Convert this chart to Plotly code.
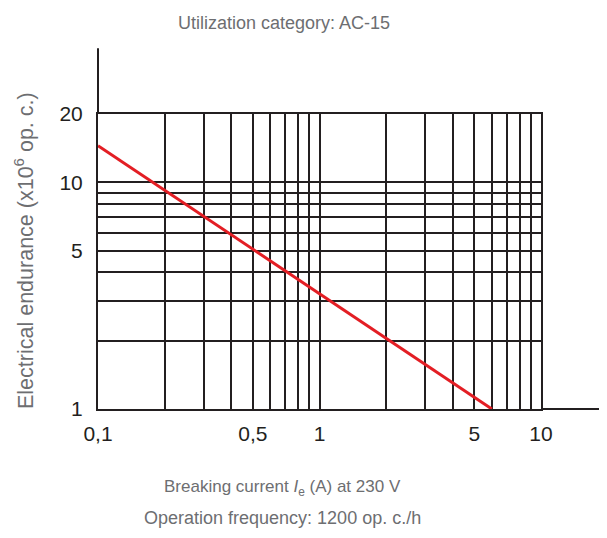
import math
import plotly.graph_objects as go

# ---- data ----
current_a = [0.1, 6]            # breaking current (A)
endurance_m = [14.5, 1]         # electrical endurance (x10^6 op. c.)

x_grid_vals = [0.1, 0.2, 0.3, 0.4, 0.5, 0.6, 0.7, 0.8, 0.9,
               1, 2, 3, 4, 5, 6, 7, 8, 9, 10]
x_tick_text = ["0,1", "", "", "", "0,5", "", "", "", "",
               "1", "", "", "", "5", "", "", "", "", "10"]
y_grid_vals = [1, 2, 3, 4, 5, 6, 7, 8, 9, 10, 20]
y_tick_text = ["1", "", "", "", "5", "", "", "", "", "10", "20"]

x_axis_extent = 20   # axis line extends to this value
y_axis_extent = 39

title_text = "Utilization category: AC-15"
y_title = "Electrical endurance (x10<sup>6</sup> op. c.)"
x_title_1 = "Breaking current <i>I</i><sub>e</sub> (A) at 230 V"
x_title_2 = "Operation frequency: 1200 op. c./h"

INK = "#231f20"
GREY = "#6d6e71"
RED = "#e31e24"
FONT = "Liberation Sans, Arial, sans-serif"

xmin, xmax = min(x_grid_vals), max(x_grid_vals)
ymin, ymax = min(y_grid_vals), max(y_grid_vals)

fig = go.Figure()
fig.add_trace(go.Scatter(x=current_a, y=endurance_m, mode="lines",
                         line=dict(color=RED, width=3), showlegend=False,
                         hoverinfo="skip"))

fig.update_xaxes(type="log", range=[math.log10(xmin), math.log10(xmax)],
                 tickvals=x_grid_vals, ticktext=x_tick_text,
                 showgrid=True, gridcolor=INK, gridwidth=2,
                 showline=True, linecolor=INK, linewidth=2, mirror=True,
                 ticks="", ticklabelstandoff=5, zeroline=False,
                 tickfont=dict(family=FONT, size=21, color=INK))
fig.update_yaxes(type="log", range=[math.log10(ymin), math.log10(ymax)],
                 tickvals=y_grid_vals, ticktext=y_tick_text,
                 showgrid=True, gridcolor=INK, gridwidth=2,
                 showline=True, linecolor=INK, linewidth=2, mirror=True,
                 ticks="", ticklabelstandoff=9, zeroline=False,
                 tickfont=dict(family=FONT, size=21, color=INK))

# axis extensions beyond the grid box
x_ext = (math.log10(x_axis_extent) - math.log10(xmin)) / (math.log10(xmax) - math.log10(xmin))
y_ext = (math.log10(y_axis_extent) - math.log10(ymin)) / (math.log10(ymax) - math.log10(ymin))
fig.add_shape(type="line", xref="paper", yref="paper", x0=1, x1=x_ext, y0=0, y1=0,
              line=dict(color=INK, width=2))
fig.add_shape(type="line", xref="paper", yref="paper", x0=0, x1=0, y0=1, y1=y_ext,
              line=dict(color=INK, width=2))

W, H = 607, 538
OFF = 8  # page offset of the plot div
ml, mt = 90, 106
pw, ph = 443, 295
mr, mb = W - ml - pw, H - mt - ph

def px_x(px):
    return (px - OFF - ml) / pw

def px_y(py):
    return (H - mb - (py - OFF)) / ph

def label(text, x, y, size, angle=0):
    fig.add_annotation(text=text, xref="paper", yref="paper",
                       x=px_x(x), y=px_y(y), xanchor="center", yanchor="middle",
                       textangle=angle, showarrow=False,
                       font=dict(family=FONT, size=size, color=GREY))

label(title_text, 284, 23, 18)
label(y_title, 24, 251, 21.5, angle=-90)
label(x_title_1, 282, 488, 17)
label(x_title_2, 282, 518, 18)

fig.update_layout(width=W, height=H, margin=dict(l=ml, r=mr, t=mt, b=mb),
                  paper_bgcolor="white", plot_bgcolor="white",
                  showlegend=False)

fig.write_html("out.html")
